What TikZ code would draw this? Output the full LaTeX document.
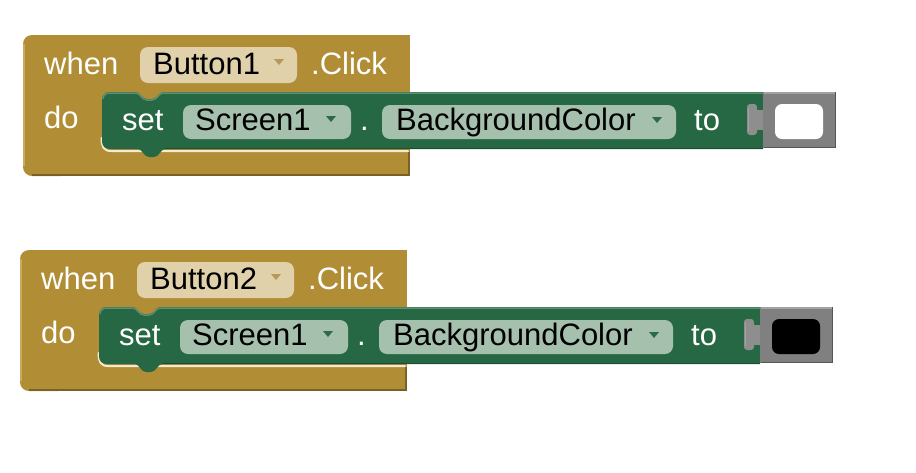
\documentclass[tikz,border=0pt]{standalone}
\usepackage{fontspec}
\setmainfont{Liberation Sans}

% block palette
\definecolor{evgold}{HTML}{B18D36}
\definecolor{evgolddark}{HTML}{7C6124}
\definecolor{evgoldlight}{HTML}{C9AB5E}
\definecolor{evgoldshine}{HTML}{F2EBD2}
\definecolor{setgreen}{HTML}{266843}
\definecolor{setgreenlight}{HTML}{5F8E70}
\definecolor{setgreendark}{HTML}{1C4C31}
\definecolor{ddtan}{HTML}{E0D1AA}
\definecolor{ddtanarrow}{HTML}{B8975A}
\definecolor{ddgreen}{HTML}{A6C0AE}
\definecolor{ddgreenarrow}{HTML}{2C6A4E}
\definecolor{sockgray}{HTML}{808080}
\definecolor{sockdark}{HTML}{555555}
\definecolor{socklight}{HTML}{A2A2A2}
\definecolor{tabgray}{HTML}{8E8E8E}

\tikzset{
  lbl/.style={anchor=base west, inner sep=0pt, font=\fontsize{31}{31}\selectfont, text=white},
  ddtext/.style={lbl, text=black},
  ddfield/.style={rounded corners=8pt},
}

% one "when ButtonN.Click do set Screen1.BackgroundColor to <colour>" block
\newcommand\eventblock[3]{%
  % gold C-shaped event frame (its mouth is filled by the statement)
  \fill[evgold, rounded corners=9pt] (23,35) rectangle (70,176);
  \fill[evgold] (45,35) rectangle (410,176);
  \draw[evgolddark, line width=2pt] (32,175) -- (410,175);
  \draw[evgolddark, line width=1.5pt] (409,152) -- (409,176);
  \draw[evgoldlight, line width=1.5pt] (24,44) -- (24,166);
  \draw[evgoldshine, line width=2pt, line cap=round]
    (101.5,138) .. controls (101.5,147) and (104,151) .. (111,151) -- (408,151);
  % green setter statement
  \fill[setgreen]
    (110,92) -- (136,92) .. controls (140,92) and (142,99) .. (147,99)
    -- (152,99) .. controls (157,99) and (159,92) .. (163,92)
    -- (763,92) -- (763,149) -- (165,149)
    .. controls (161,149) and (159,157) .. (154,157)
    -- (149,157) .. controls (144,157) and (142,149) .. (138,149)
    -- (110,149) .. controls (105,149) and (102,146) .. (102,141)
    -- (102,100) .. controls (102,95) and (105,92) .. (110,92) -- cycle;
  \draw[setgreenlight, line width=1.5pt]
    (103,99) .. controls (103,95) and (106,93) .. (110,93) -- (136,93)
    .. controls (140,93) and (142,100) .. (147,100) -- (152,100)
    .. controls (157,100) and (159,93) .. (163,93) -- (763,93);
  \draw[setgreendark, line width=1.5pt] (165,148.5) -- (763,148.5);
  % event row
  \node[lbl] (when#1) at (44,74) {when};
  \fill[ddtan, ddfield] (140,47) rectangle (297,83);
  \node[ddtext] (btn#1) at (153,74) {#2};
  \fill[ddtanarrow] (274,59) -- (284,59) -- (279,65) -- cycle;
  \node[lbl] (click#1) at (311,74) {.Click};
  % statement row
  \node[lbl] (do#1) at (44,128) {do};
  \node[lbl] (set#1) at (122,130) {set};
  \fill[ddgreen, ddfield] (183,105) rectangle (351,139);
  \node[ddtext] (scr#1) at (195,130) {Screen1};
  \fill[ddgreenarrow] (326,116) -- (336,116) -- (331,122) -- cycle;
  \node[lbl] (dot#1) at (360,130) {.};
  \fill[ddgreen, ddfield] (382,105) rectangle (676,139);
  \node[ddtext] (prop#1) at (396,130) {BackgroundColor};
  \fill[ddgreenarrow] (652,117) -- (662,117) -- (657,123) -- cycle;
  \node[lbl] (to#1) at (694,130) {to};
  % colour socket with its plug
  \fill[tabgray] (754,110) rectangle (764,130);
  \fill[tabgray, rounded corners=3pt] (747,104) rectangle (757,135);
  \draw[socklight, line width=1.5pt] (748.5,108) -- (748.5,131);
  \fill[sockgray] (763,92) rectangle (836,148);
  \draw[socklight, line width=1.5pt] (764,93) -- (835,93);
  \draw[sockdark, line width=1.5pt] (764,147.5) -- (835.5,147.5) -- (835.5,92);
  \fill[#3, rounded corners=7pt] (775,104) rectangle (823,139);
}

\begin{document}
\begin{tikzpicture}[x=1pt,y=-1pt]
  \useasboundingbox (0,0) rectangle (916,472);
  \eventblock{a}{Button1}{white}
  \begin{scope}[shift={(-3,215)}]
    \eventblock{b}{Button2}{black}
  \end{scope}
\end{tikzpicture}
\end{document}
